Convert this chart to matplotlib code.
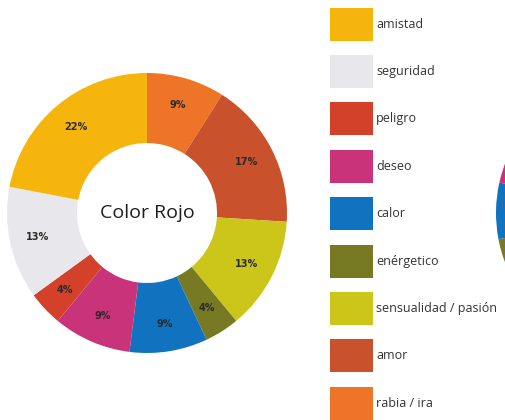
import matplotlib
matplotlib.use("Agg")
import matplotlib.pyplot as plt
from matplotlib.patches import Rectangle

# Categories and shares for "Color Rojo" (clockwise from the top)
categories = ["rabia / ira", "amor", "sensualidad / pasión", "enérgetico",
              "calor", "deseo", "peligro", "seguridad", "amistad"]
values = [9, 17, 13, 4, 9, 9, 4, 13, 22]
colors = ["#EE7528", "#C9512B", "#CBC619", "#777A22",
          "#1172C0", "#C8337A", "#D3412B", "#E8E7EB", "#F6B50C"]

# Legend order (top to bottom)
legend_labels = ["amistad", "seguridad", "peligro", "deseo", "calor",
                 "enérgetico", "sensualidad / pasión", "amor", "rabia / ira"]

# Neighbouring chart, only partly in view
right_values = [25, 20, 17, 10, 6.5, 12, 9.5]
right_colors = ["#EE7528", "#D3412B", "#CBC619", "#777A22",
                "#1172C0", "#C8337A", "#E8E7EB"]

W, H = 505, 420
fig = plt.figure(figsize=(W / 100, H / 100), dpi=100)
ax = fig.add_axes([0, 0, 1, 1])
ax.set_axis_off()

R = 140
cx, cy = 147, H - 213

wedges, _, autotexts = ax.pie(
    values, colors=colors, startangle=90, counterclock=False,
    radius=R, center=(cx, cy),
    wedgeprops=dict(width=R * 0.5, linewidth=0),
    autopct=lambda p: f"{p:.0f}%", pctdistance=0.8,
    textprops=dict(fontsize=7, fontweight="bold", color="#2b2b2b"),
)

ax.text(cx, cy, "Color Rojo", ha="center", va="center",
        fontsize=14, family="Open Sans", color="#1e1e1e")

# Partial donut at the right edge
ax.pie(right_values, colors=right_colors, startangle=90, counterclock=False,
       radius=R, center=(636, cy),
       wedgeprops=dict(width=R * 0.5, linewidth=0))

# Legend swatches and labels
for i, lab in enumerate(legend_labels):
    col = colors[categories.index(lab)]
    yc = H - (24 + i * 47.4)
    ax.add_patch(Rectangle((330, yc - 16.5), 43, 33, facecolor=col,
                           edgecolor="none"))
    ax.text(376, yc, lab, ha="left", va="center", fontsize=9,
            family="Open Sans", color="#333333")

ax.set_xlim(0, W)
ax.set_ylim(0, H)
ax.set_aspect("auto")

fig.savefig("out.png", dpi=100)
